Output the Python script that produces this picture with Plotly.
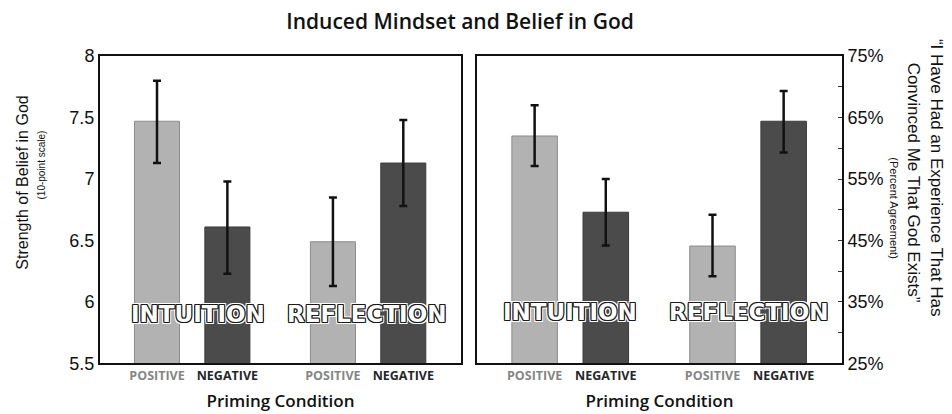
import plotly.graph_objects as go

conditions = ["POSITIVE", "NEGATIVE", "POSITIVE", "NEGATIVE"]
groups = ["INTUITION", "REFLECTION"]
positions = [0, 1, 2.5, 3.5]

belief_mean = [7.47, 6.61, 6.49, 7.13]
belief_hi = [7.80, 6.98, 6.85, 7.48]
belief_lo = [7.13, 6.23, 6.13, 6.78]

exp_mean = [62.0, 49.6, 44.1, 64.4]
exp_hi = [67.0, 55.0, 49.2, 69.3]
exp_lo = [57.1, 44.2, 39.2, 59.3]

belief_ticks = [5.5, 6, 6.5, 7, 7.5, 8]
pct_ticks = [25, 35, 45, 55, 65, 75]
pct_labels = ["25%", "35%", "45%", "55%", "65%", "75%"]

LIGHT = "#b2b2b2"
DARK = "#4b4b4b"
bar_colors = [LIGHT, DARK, LIGHT, DARK]
edge_colors = ["#8c8c8c", "#3c3c3c", "#8c8c8c", "#3c3c3c"]
label_colors = ["#858585", "#262626", "#858585", "#262626"]

ticktext = [f"<span style='color:{c}'><b>{t}</b></span>" for t, c in zip(conditions, label_colors)]

fig = go.Figure()


def add_panel(mean, hi, lo, xa, ya):
    fig.add_trace(go.Bar(
        x=positions, y=mean, xaxis=xa, yaxis=ya, width=0.64,
        marker=dict(color=bar_colors, line=dict(color=edge_colors, width=1)),
        error_y=dict(type="data", symmetric=False,
                     array=[h - m for h, m in zip(hi, mean)],
                     arrayminus=[m - l for m, l in zip(mean, lo)],
                     color="#111111", thickness=2.5, width=4),
        showlegend=False, hoverinfo="skip",
    ))


add_panel(belief_mean, belief_hi, belief_lo, "x", "y")
add_panel(exp_mean, exp_hi, exp_lo, "x2", "y2")

W, H = 952, 414
xr = [-0.81, 4.32]
tickfont = dict(family="Open Sans", size=12.5)
box = dict(showline=True, linecolor="#111111", linewidth=2, mirror=True)
xtitle = dict(text="Priming Condition", standoff=12,
              font=dict(family="Open Sans", size=17, color="#111111", weight=600))

fig.update_layout(
    width=W, height=H,
    margin=dict(l=0, r=0, t=0, b=0),
    paper_bgcolor="white", plot_bgcolor="white",
    barmode="overlay",
    title=dict(text="Induced Mindset and Belief in God", x=452 / W, xanchor="center",
               y=1 - 14 / H, yanchor="middle",
               font=dict(family="Open Sans", size=21, color="#111111", weight=600)),
    xaxis=dict(domain=[92 / W, 453 / W], range=xr, tickvals=positions, ticktext=ticktext,
               tickfont=tickfont, ticks="", showgrid=False, zeroline=False,
               title=xtitle, anchor="y", **box),
    xaxis2=dict(domain=[469 / W, 834 / W], range=xr, tickvals=positions, ticktext=ticktext,
                tickfont=tickfont, ticks="", showgrid=False, zeroline=False,
                title=xtitle, anchor="y2", **box),
    yaxis=dict(domain=[(H - 363) / H, (H - 40) / H], range=[5.5, 8], tickvals=belief_ticks,
               showgrid=False, zeroline=False, ticks="",
               tickfont=dict(family="Liberation Sans", size=18, color="#111111"),
               anchor="x", **box),
    yaxis2=dict(domain=[(H - 363) / H, (H - 40) / H], range=[25, 75],
                tickvals=pct_ticks, ticktext=pct_labels,
                side="right", ticks="inside", ticklen=4, tickwidth=1, tickcolor="#333333",
                minor=dict(ticks="inside", dtick=5, ticklen=4, tickwidth=1, tickcolor="#333333"),
                showgrid=False, zeroline=False,
                tickfont=dict(family="Liberation Sans", size=18, color="#111111"),
                anchor="x2", **box),
)

outline = ("-1px -1px 0 #1a1a1a, 1px -1px 0 #1a1a1a, -1px 1px 0 #1a1a1a, 1px 1px 0 #1a1a1a, "
           "0 -1px 0 #1a1a1a, 0 1px 0 #1a1a1a, -1px 0 0 #1a1a1a, 1px 0 0 #1a1a1a, "
           "-2px -2px 0 #fff, 2px -2px 0 #fff, -2px 2px 0 #fff, 2px 2px 0 #fff, "
           "0 -2px 0 #fff, 0 2px 0 #fff, -2px 0 0 #fff, 2px 0 0 #fff")
label_font = dict(family="DejaVu Sans", size=23, color="white", weight="bold", shadow=outline)
group_x = [0.5, 3.0]
for xa, ya, yv, shifts in [("x", "y", 5.9, [6, -2]), ("x2", "y2", 33.3, [0, 0])]:
    for g, gx, s in zip(groups, group_x, shifts):
        fig.add_annotation(x=gx, y=yv, xref=xa, yref=ya, text=g, showarrow=False,
                           xshift=s, font=label_font)

ann_font = dict(family="Liberation Sans", color="#111111")


def side_text(text, px, py, angle, size):
    fig.add_annotation(x=px / W, y=(H - py) / H, xref="paper", yref="paper",
                       xanchor="center", yanchor="middle", borderpad=0,
                       text=text, textangle=angle, showarrow=False,
                       font=dict(size=size, **ann_font))


side_text("Strength of Belief in God", 15, 173, -90, 16)
side_text("(10-point scale)", 34, 155, -90, 10)
side_text("\u201cI Have Had an Experience That Has", 928, 168, 90, 17)
side_text("Convinced Me That God Exists\u201d", 905, 173, 90, 17)
side_text("(Percent Agreement)", 886, 200, 90, 11)

fig.write_html("out.html")
